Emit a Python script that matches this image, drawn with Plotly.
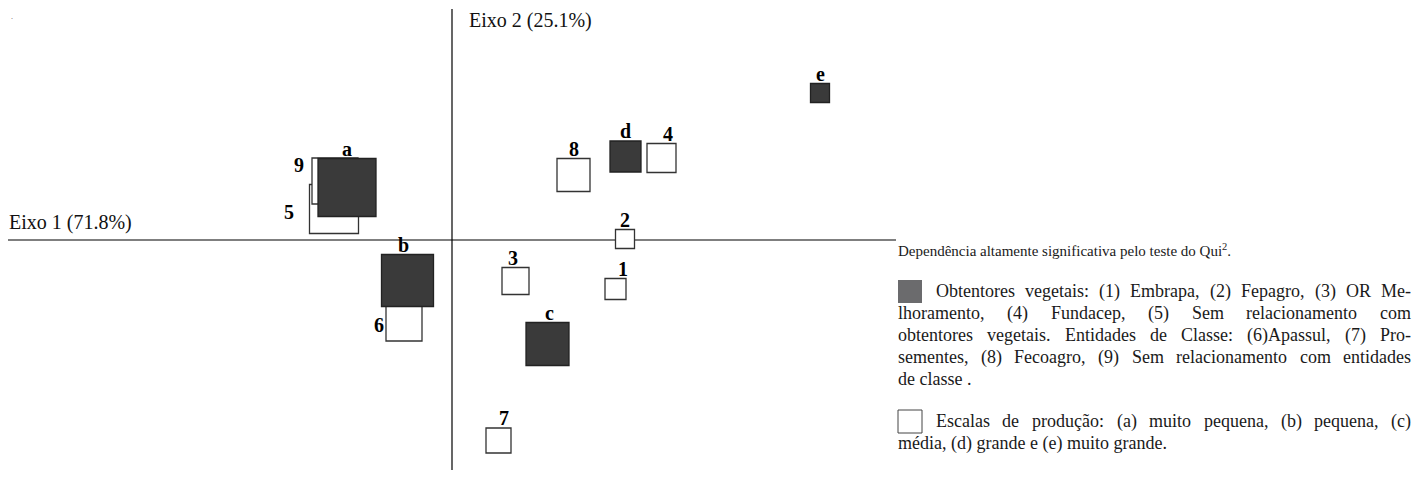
import plotly.graph_objects as go

# ---- data (correspondence-analysis coordinates) ----
num_labels = ["1", "2", "3", "4", "5", "6", "7", "8", "9"]
num_x = [1.635, 1.73, 0.635, 2.095, -1.18, -0.48, 0.465, 1.215, -1.17]
num_y = [-0.49, 0.01, -0.41, 0.82, 0.31, -0.83, -2.005, 0.65, 0.59]
num_mass = [21, 19, 27, 29, 49, 36, 25, 33, 46]

let_labels = ["a", "b", "c", "d", "e"]
let_x = [-1.05, -0.445, 0.955, 1.735, 3.68]
let_y = [0.525, -0.405, -1.04, 0.835, 1.47]
let_mass = [58, 52, 43, 31, 19]

axis1_title = "Eixo 1 (71.8%)"
axis2_title = "Eixo 2 (25.1%)"

note_text = "Dependência altamente significativa pelo teste do Qui<sup>2</sup>."
para1_lines = [
    "Obtentores vegetais: (1) Embrapa, (2) Fepagro, (3) OR Me-",
    "lhoramento, (4) Fundacep, (5) Sem relacionamento com",
    "obtentores vegetais. Entidades de Classe: (6)Apassul, (7) Pro-",
    "sementes, (8) Fecoagro, (9) Sem relacionamento com entidades",
    "de classe .",
]
para2_lines = [
    "Escalas de produção: (a) muito pequena, (b) pequena, (c)",
    "média, (d) grande e (e) muito grande.",
]

# ---- figure ----
OFF = 8                      # page body margin
W, H = 1424 - 2 * OFF, 478 - 2 * OFF
SERIF = "Liberation Serif"
DARK = "#3a3a3a"
EDGE = "#333333"

def fx(xs):                 # screen px -> figure px
    return xs - OFF
def px(xs):
    return fx(xs) / W
def py(ys):
    return 1 - (ys - OFF) / H

fig = go.Figure()

white_order = [4, 8] + [i for i in range(9) if i not in (4, 8)]
fig.add_trace(go.Scatter(
    x=[num_x[i] for i in white_order], y=[num_y[i] for i in white_order],
    mode="markers",
    marker=dict(symbol="square", size=[num_mass[i] for i in white_order],
                color="white", opacity=1, line=dict(color=EDGE, width=1.3)),
    hoverinfo="skip", showlegend=False))
fig.add_trace(go.Scatter(
    x=let_x, y=let_y, mode="markers",
    marker=dict(symbol="square", size=let_mass, color=DARK, opacity=1,
                line=dict(color="#222222", width=1.3)),
    hoverinfo="skip", showlegend=False))

label_font = dict(family=SERIF, size=20, color="black")
# labels drawn to the left of their box: (gap px, vertical shift px)
left_labels = {"9": (6, 16), "5": (14, -3), "6": (0, -2)}
top_nudge = {"1": 7, "4": 6, "7": 5, "3": -3, "b": -4, "c": 2}

def add_label(lbl, x, y, s):
    if lbl in left_labels:
        gap, dy = left_labels[lbl]
        fig.add_annotation(x=x, y=y, text="<b>%s</b>" % lbl, showarrow=False,
                           xanchor="right", yanchor="middle",
                           xshift=-(s / 2 + gap), yshift=dy, font=label_font)
    else:
        fig.add_annotation(x=x, y=y, text="<b>%s</b>" % lbl, showarrow=False,
                           xanchor="center", yanchor="middle",
                           xshift=top_nudge.get(lbl, 0), yshift=s / 2 + 10,
                           font=label_font)

for l, x, y, s in zip(num_labels, num_x, num_y, num_mass):
    add_label(l, x, y, s)
for l, x, y, s in zip(let_labels, let_x, let_y, let_mass):
    add_label(l, x, y, s)

# axes: 1 unit = 100 px, origin at screen (452, 240)
ox, oy, scale = fx(452), 240 - OFF, 100.0
xr = [(0 - ox) / scale, (W - ox) / scale]
yr = [(oy - H) / scale, (oy - 0) / scale]

fig.add_shape(type="line", xref="x", yref="y", x0=xr[0], x1=(fx(896) - ox) / scale,
              y0=0, y1=0, line=dict(color="black", width=1.2), layer="below")
fig.add_shape(type="line", xref="x", yref="y", x0=0, x1=0,
              y0=(oy - (9 - OFF)) / scale, y1=(oy - (471 - OFF)) / scale,
              line=dict(color="black", width=1.2), layer="below")

axis_font = dict(family=SERIF, size=20, color="#111111")
fig.add_annotation(xref="paper", yref="paper", x=px(7), y=py(222), text=axis1_title,
                   showarrow=False, xanchor="left", yanchor="middle", font=axis_font)
fig.add_annotation(xref="paper", yref="paper", x=px(467), y=py(21), text=axis2_title,
                   showarrow=False, xanchor="left", yanchor="middle", font=axis_font)

fig.add_annotation(xref="paper", yref="paper", x=0.0008, y=0.995, text=".",
                   showarrow=False, xanchor="left", yanchor="top",
                   font=dict(family=SERIF, size=8, color="#555"))

# ---- caption text (Times metrics used to justify lines) ----
TW = {" ": 250, "!": 333, "%": 833, "(": 333, ")": 333, ",": 250, "-": 333,
      ".": 250, ":": 278, ";": 278,
      "A": 722, "B": 667, "C": 667, "D": 722, "E": 611, "F": 556, "G": 722,
      "H": 722, "I": 333, "J": 389, "K": 722, "L": 611, "M": 889, "N": 722,
      "O": 722, "P": 556, "Q": 722, "R": 667, "S": 556, "T": 611, "U": 722,
      "V": 722, "W": 944, "X": 722, "Y": 722, "Z": 611,
      "a": 444, "b": 500, "c": 444, "d": 500, "e": 444, "f": 333, "g": 500,
      "h": 500, "i": 278, "j": 278, "k": 500, "l": 278, "m": 778, "n": 500,
      "o": 500, "p": 500, "q": 500, "r": 333, "s": 389, "t": 278, "u": 500,
      "v": 500, "w": 722, "x": 500, "y": 500, "z": 444,
      "ê": 444, "é": 444, "ç": 444, "ã": 444}

def text_w(s, size):
    return sum(TW.get(ch, 500) for ch in s) * size / 1000.0

PSIZE = 18
txt_font = dict(family=SERIF, size=PSIZE, color="#1a1a1a")

def put(text, xs, ys, font=txt_font):
    fig.add_annotation(xref="paper", yref="paper", x=px(xs), y=py(ys), text=text,
                       showarrow=False, xanchor="left", yanchor="middle",
                       font=font, borderpad=0)

def put_line(text, xs, ys, justify, right=1410):
    if not justify:
        put(text, xs, ys)
        return
    words = text.split(" ")
    ww = [text_w(w, PSIZE) for w in words]
    gap = (right - xs - sum(ww)) / (len(words) - 1)
    x = xs
    for w, wdt in zip(words, ww):
        put(w, x, ys)
        x += wdt + gap

put(note_text, 897, 250, font=dict(family=SERIF, size=15, color="#1a1a1a"))
ys1 = [291, 313, 335, 357, 379]
for i, t in enumerate(para1_lines):
    put_line(t, 935 if i == 0 else 897, ys1[i], justify=(i < 4))
ys2 = [421, 443]
for i, t in enumerate(para2_lines):
    put_line(t, 935 if i == 0 else 897, ys2[i], justify=(i == 0))

# legend glyphs
fig.add_shape(type="rect", xref="paper", yref="paper", x0=px(898), x1=px(922),
              y0=py(303), y1=py(280), fillcolor="#6b6b6d", line=dict(width=0))
fig.add_shape(type="rect", xref="paper", yref="paper", x0=px(898), x1=px(922),
              y0=py(433), y1=py(410), fillcolor="white",
              line=dict(color="#444444", width=1))

fig.update_layout(
    width=W, height=H, margin=dict(l=0, r=0, t=0, b=0),
    paper_bgcolor="white", plot_bgcolor="white",
    xaxis=dict(range=xr, visible=False, fixedrange=True),
    yaxis=dict(range=yr, visible=False, fixedrange=True),
    showlegend=False,
)

fig.write_html("out.html")
